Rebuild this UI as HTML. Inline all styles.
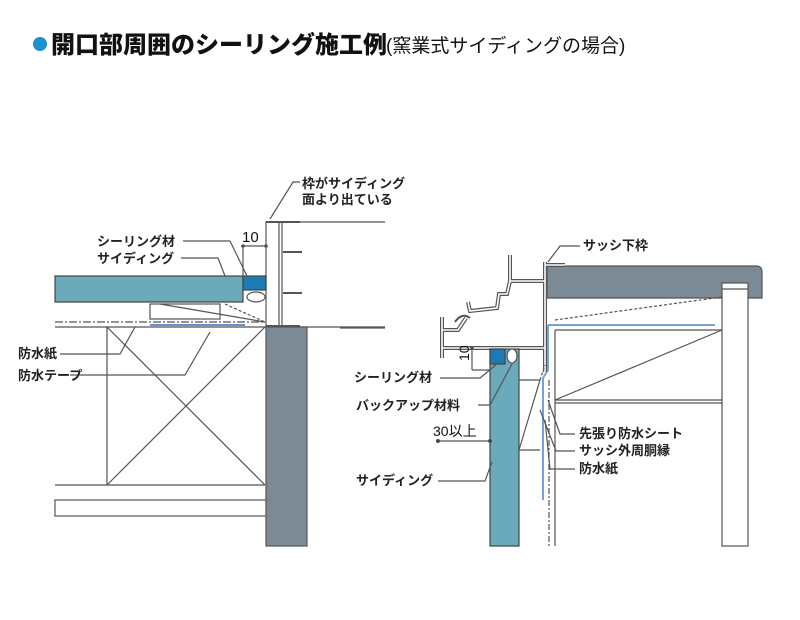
<!DOCTYPE html>
<html><head><meta charset="utf-8"><style>
body{margin:0;background:#fff;}
svg{display:block}
text{font-family:"Liberation Sans","Noto Sans CJK JP",sans-serif;font-weight:bold;fill:#222;}
</style></head><body>
<svg width="800" height="620" viewBox="0 0 800 620" xmlns="http://www.w3.org/2000/svg">
<!-- title -->
<circle cx="40" cy="44" r="7" fill="#1e8fd0"/>
<text x="51" y="53" font-size="24" style="fill:#111;font-weight:900">開口部周囲のシーリング施工例</text>
<text x="386" y="52" font-size="19" style="font-weight:normal;fill:#111">(窯業式サイディングの場合)</text>

<g stroke="#555" stroke-width="1.2" fill="none">
<!-- LEFT DIAGRAM -->
<line x1="266" y1="222" x2="385" y2="222"/>
<line x1="55" y1="327" x2="385" y2="327"/>
<rect x="266" y="222" width="13" height="104" fill="#fff"/>
<line x1="282" y1="222" x2="282" y2="326"/>
<line x1="266" y1="222" x2="300" y2="222" stroke-width="2"/>
<line x1="266" y1="326" x2="300" y2="326" stroke-width="2"/>
<line x1="283" y1="252" x2="302" y2="252" stroke-width="2"/>
<line x1="283" y1="293" x2="302" y2="293" stroke-width="2"/>
<rect x="55" y="276" width="188" height="26" fill="#6aaabb" stroke="#444"/>
<rect x="243" y="276" width="23" height="14" fill="#1c7ab5" stroke="#444"/>
<ellipse cx="256" cy="297" rx="9" ry="5" fill="#fff"/>
<rect x="150" y="304" width="70" height="15" fill="#fff"/>
<line x1="160" y1="304" x2="265" y2="322"/>
<line x1="225" y1="304" x2="265" y2="322" stroke-dasharray="3,2"/>
<line x1="55" y1="322" x2="265" y2="322" stroke-dasharray="8,2,2,2"/>
<line x1="150" y1="325" x2="245" y2="325" stroke="#6b8fd0" stroke-width="2"/>
<line x1="107" y1="327" x2="107" y2="485"/>
<line x1="55" y1="485" x2="265" y2="485"/>
<line x1="107" y1="327" x2="265" y2="485"/>
<line x1="265" y1="327" x2="107" y2="485"/>
<rect x="55" y="500" width="223" height="16" fill="#fff"/>
<rect x="266" y="327" width="41" height="219" fill="#7b8a94" stroke="#555"/>
<line x1="243" y1="246" x2="243" y2="276"/>
<line x1="243" y1="246" x2="266" y2="246"/>
<circle cx="243" cy="246" r="1.2" fill="#333"/>
<circle cx="266" cy="246" r="1.2" fill="#333"/>
<polyline points="183,241 230,241 247,276"/>
<polyline points="181,258 218,258 225,276"/>
<polyline points="60,354 120,354 135,327"/>
<polyline points="70,375 185,375 210,332"/>
<polyline points="270,219 293,182 300,182"/>

<!-- RIGHT DIAGRAM -->
<line x1="340" y1="328" x2="385" y2="328"/>
<path d="M547 266 H756 Q762 266 762 272 V298 H547 Z" fill="#7b8a94" stroke="#555"/>
<rect x="722" y="283" width="26" height="263" fill="#fff"/>
<line x1="722" y1="289" x2="748" y2="289"/>
<line x1="555" y1="330" x2="555" y2="546"/>
<line x1="555" y1="330" x2="722" y2="330"/>
<line x1="555" y1="400" x2="722" y2="400"/>
<line x1="555" y1="403" x2="722" y2="403"/>
<line x1="555" y1="400" x2="722" y2="330"/>
<line x1="555" y1="320" x2="722" y2="297" stroke-dasharray="3,2"/>
<line x1="548" y1="325" x2="715" y2="325" stroke="#7aa0d8" stroke-width="2"/>
<polyline points="548,325 548,370 543,378 543,500" stroke="#7aa0d8" stroke-width="2"/>
<line x1="549" y1="380" x2="549" y2="546" stroke-dasharray="6,2,2,2"/>
<g stroke="#555" stroke-width="4" fill="none">
<polyline points="442,317 442,358"/>
<polyline points="442,348 545,348"/>
<polyline points="545,262 545,372"/>
<polyline points="545,265 565,265"/>
<polyline points="545,281 510,281 510,255"/>
<polyline points="510,281 507,294 499,294 497,308 470,311 468,302"/>
<polyline points="442,330 458,330 466,318"/>
</g>
<g stroke="#fff" stroke-width="1.6" fill="none">
<polyline points="442,317 442,358"/>
<polyline points="442,348 545,348"/>
<polyline points="545,262 545,372"/>
<polyline points="545,265 565,265"/>
<polyline points="545,281 510,281 510,255"/>
<polyline points="510,281 507,294 499,294 497,308 470,311 468,302"/>
<polyline points="442,330 458,330 466,318"/>
</g>
<path d="M455 322 Q462 312 470 318" stroke="#555" stroke-width="2"/>
<rect x="490" y="349" width="29" height="197" fill="#6aaabb" stroke="#444"/>
<rect x="490" y="349" width="15" height="15" fill="#1c7ab5" stroke="#444"/>
<ellipse cx="512" cy="356" rx="5" ry="7" fill="#fff"/>
<line x1="519" y1="380" x2="540" y2="380"/>
<line x1="519" y1="450" x2="540" y2="450"/>
<line x1="540" y1="380" x2="545" y2="365" stroke-dasharray="3,2"/>
<line x1="519" y1="450" x2="540" y2="380"/>
<line x1="472" y1="348" x2="472" y2="370"/>
<line x1="472" y1="370" x2="490" y2="370"/>
<circle cx="472" cy="348" r="1.2" fill="#333"/>
<line x1="437" y1="441" x2="490" y2="441"/>
<circle cx="438" cy="441" r="1.5" fill="#333"/>
<circle cx="490" cy="441" r="1.5" fill="#333"/>
<polyline points="440,378 480,378 497,364"/>
<polyline points="478,405 490,405 512,364"/>
<polyline points="438,481 485,481 492,462"/>
<polyline points="548,262 560,246 580,246"/>
<polyline points="575,434 560,434 548,400"/>
<polyline points="575,451 556,451 540,410"/>
<polyline points="575,469 550,469 545,420"/>
</g>

<g font-size="13">
<text x="302" y="188">枠がサイディング</text>
<text x="302" y="204">面より出ている</text>
<text x="97" y="246">シーリング材</text>
<text x="97" y="263">サイディング</text>
<text x="242" y="242" font-size="15" style="font-weight:normal;fill:#111">10</text>
<text x="18" y="358">防水紙</text>
<text x="18" y="380">防水テープ</text>
<text x="583" y="250">サッシ下枠</text>
<text x="354" y="382">シーリング材</text>
<text x="356" y="410">バックアップ材料</text>
<text x="433" y="436" font-size="14" style="font-weight:normal;fill:#111">30以上</text>
<text x="356" y="485">サイディング</text>
<text x="579" y="438">先張り防水シート</text>
<text x="579" y="455">サッシ外周胴縁</text>
<text x="579" y="473">防水紙</text>
<text x="0" y="0" transform="translate(469,361) rotate(-90)" font-size="14" style="font-weight:normal;fill:#111">10</text>
</g>
</svg>
</body></html>
